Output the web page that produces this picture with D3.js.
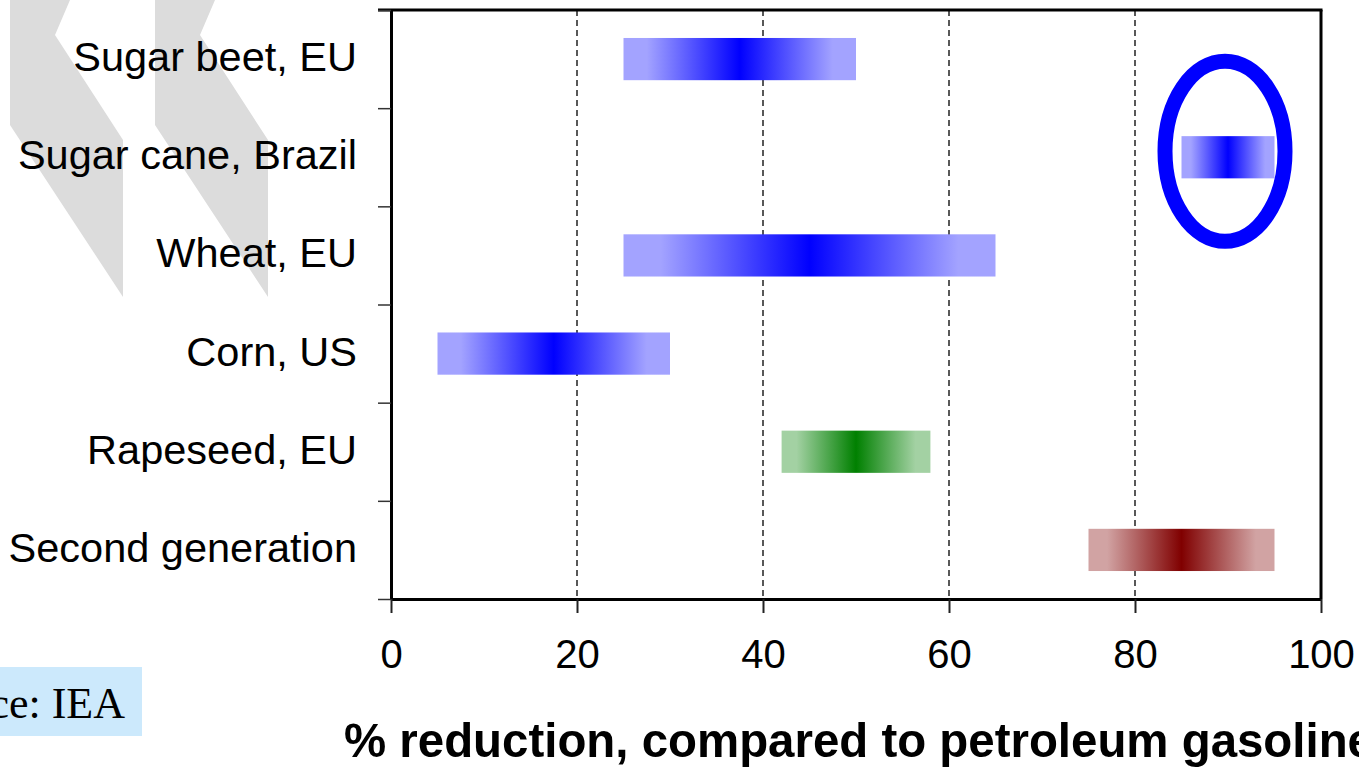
<!DOCTYPE html>
<html>
<head>
<meta charset="utf-8">
<script src="https://cdn.jsdelivr.net/npm/d3@7"></script>
<style>
  body { margin: 0; background: #fff; overflow: hidden; }
  text { font-family: "Liberation Sans", Arial, sans-serif; }
</style>
</head>
<body>
<svg id="chart" width="1359" height="767"></svg>
<script>
// values
var crops = ["Sugar beet, EU", "Sugar cane, Brazil", "Wheat, EU", "Corn, US", "Rapeseed, EU", "Second generation"];
var lowVals = [25, 85, 25, 5, 42, 75];
var highVals = [50, 95, 65, 30, 58, 95];
var peakVals = [37.5, 90, 45, 17.5, 50, 85];
var barColors = ["#0000ff", "#0000ff", "#0000ff", "#0000ff", "#008000", "#800000"];
var xTicks = [0, 20, 40, 60, 80, 100];
var gridTicks = [20, 40, 60, 80];
var highlighted = "Sugar cane, Brazil";
var axisTitle = "% reduction, compared to petroleum gasoline";
var sourceText = "Source: IEA";

var svg = d3.select("#chart");

var plotLeft = 391, plotRight = 1321, plotTop = 10, plotBottom = 599;

var x = d3.scaleLinear().domain([0, 100]).range([plotLeft, plotRight]);
var y = d3.scaleBand().domain(crops).range([plotTop, plotBottom]);
var yEdge = d3.scaleLinear().domain([0, crops.length]).range([plotTop, plotBottom]);

// grey chevrons in the background (logo decoration)
var chevron = [[10, 0], [70, 0], [55, 35], [123, 140], [123, 297], [10, 125]];
[0, 145].forEach(function(dx) {
  svg.append("polygon")
    .attr("points", chevron.map(function(p) { return (p[0] + dx) + "," + p[1]; }).join(" "))
    .attr("fill", "#dcdcdc");
});

// gradients, one per bar, dark at the central estimate
var defs = svg.append("defs");
crops.forEach(function(c, i) {
  var light = d3.interpolateRgb("#ffffff", barColors[i])(0.36);
  var p = (peakVals[i] - lowVals[i]) / (highVals[i] - lowVals[i]);
  var g = defs.append("linearGradient")
    .attr("id", "grad" + i)
    .attr("x1", "0%").attr("x2", "100%").attr("y1", "0%").attr("y2", "0%");
  [[0, light], [p * 0.2, light], [p, barColors[i]], [p + (1 - p) * 0.8, light], [1, light]]
    .forEach(function(s) {
      g.append("stop").attr("offset", (s[0] * 100) + "%").attr("stop-color", s[1]);
    });
});

// dashed grid lines
svg.append("g")
  .selectAll("line")
  .data(gridTicks)
  .enter()
  .append("line")
    .attr("x1", function(d) { return x(d); })
    .attr("x2", function(d) { return x(d); })
    .attr("y1", plotTop)
    .attr("y2", plotBottom)
    .style("stroke", "#222")
    .style("stroke-width", 1.5)
    .style("stroke-dasharray", "6,4");

// bars
var barH = y.bandwidth() * 0.43;
svg.append("g")
  .selectAll("rect")
  .data(crops)
  .enter()
  .append("rect")
    .attr("x", function(d, i) { return x(lowVals[i]); })
    .attr("width", function(d, i) { return x(highVals[i]) - x(lowVals[i]); })
    .attr("y", function(d) { return y(d) + (y.bandwidth() - barH) / 2; })
    .attr("height", barH)
    .style("fill", function(d, i) { return "url(#grad" + i + ")"; });

// frame: top and right
svg.append("line")
  .attr("x1", plotLeft - 13).attr("x2", plotRight + 1.5)
  .attr("y1", plotTop).attr("y2", plotTop)
  .style("stroke", "#000").style("stroke-width", 3);
svg.append("line")
  .attr("x1", plotRight).attr("x2", plotRight)
  .attr("y1", plotTop).attr("y2", plotBottom)
  .style("stroke", "#000").style("stroke-width", 3);

// left axis, ticks on band edges
svg.append("g")
  .attr("transform", "translate(" + plotLeft + ",0)")
  .call(d3.axisLeft(yEdge)
    .tickValues(d3.range(0, crops.length + 1))
    .tickSize(13)
    .tickSizeOuter(0)
    .tickFormat(""))
  .call(function(g) { g.select(".domain").style("stroke-width", 3); })
  .call(function(g) { g.selectAll(".tick line").style("stroke-width", 1.5).style("stroke", "#333"); });

// category labels
svg.append("g")
  .selectAll("text")
  .data(crops)
  .enter()
  .append("text")
    .attr("x", 357)
    .attr("y", function(d) { return y(d) + y.bandwidth() / 2 + 12; })
    .attr("text-anchor", "end")
    .style("font-size", "41.5px")
    .style("fill", "#000")
    .text(function(d) { return d; });

// bottom axis
svg.append("g")
  .attr("transform", "translate(0," + plotBottom + ")")
  .call(d3.axisBottom(x)
    .tickValues(xTicks)
    .tickSize(14)
    .tickSizeOuter(0)
    .tickPadding(27))
  .call(function(g) { g.select(".domain").style("stroke-width", 3); })
  .call(function(g) { g.selectAll(".tick line").style("stroke-width", 2).style("stroke", "#222"); })
  .call(function(g) {
    g.selectAll(".tick text")
      .style("font-size", "40px")
      .style("font-family", "'Liberation Sans', Arial, sans-serif")
      .style("fill", "#000");
  });

// highlight ellipse around the sugar cane bar
var hi = crops.indexOf(highlighted);
svg.append("ellipse")
  .attr("cx", x(peakVals[hi]) - 3)
  .attr("cy", y(highlighted) + y.bandwidth() / 2 - 6)
  .attr("rx", 60)
  .attr("ry", 90)
  .style("fill", "none")
  .style("stroke", "#0000ff")
  .style("stroke-width", 15);

// axis title
svg.append("text")
  .attr("x", 344)
  .attr("y", 757)
  .attr("textLength", 1030)
  .attr("lengthAdjust", "spacingAndGlyphs")
  .style("font-size", "49px")
  .style("font-weight", "bold")
  .style("fill", "#000")
  .text(axisTitle);

// source box
svg.append("rect")
  .attr("x", 0).attr("y", 667)
  .attr("width", 142).attr("height", 69)
  .style("fill", "#cce9fc");
svg.append("text")
  .attr("x", 125)
  .attr("y", 718)
  .attr("text-anchor", "end")
  .style("font-family", "'Liberation Serif', 'Times New Roman', serif")
  .style("font-size", "44px")
  .style("fill", "#000")
  .text(sourceText);
</script>
</body>
</html>
